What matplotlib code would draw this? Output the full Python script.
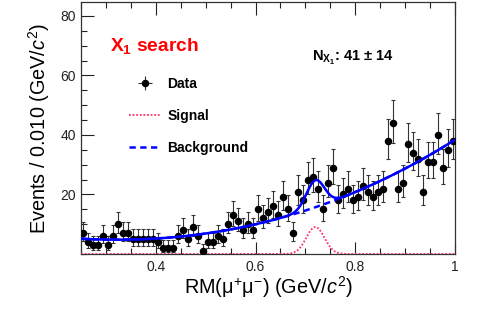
import math
import numpy as np
import matplotlib
matplotlib.use("Agg")
import matplotlib.pyplot as plt
from matplotlib.lines import Line2D

# ---------------- data ----------------
bin_width = 0.01
x_low, x_high = 0.25, 1.0
counts = [7, 4, 3, 3, 6, 3, 6, 10, 7, 7,
          5, 5, 5, 5, 5, 4, 2, 2, 2, 6,
          8, 5, 9, 6, 1, 4, 4, 6, 5, 10,
          13, 11, 8, 10, 8, 15, 12, 14, 16, 13,
          19, 15, 7, 21, 18, 25, 26, 22, 15, 24,
          29, 18, 20, 22, 18, 19, 23, 21, 19, 21,
          22, 38, 44, 22, 24, 37, 34, 32, 21, 31,
          31, 40, 29, 35, 38]

# fit model parameters
bkg_x0 = 0.70
bkg_coefs = [14.6, 54.0, 80.0, 15.0]   # polynomial in (x - bkg_x0)
sig_mean = 0.72
sig_sigma = 0.018
n_sig = 41
n_sig_err = 14

x_ticks = [0.4, 0.6, 0.8, 1.0]
x_tick_labels = ["0.4", "0.6", "0.8", "1"]
y_ticks = [20, 40, 60, 80]
y_tick_labels = ["20", "40", "60", "80"]

# ---------------- helpers ----------------
def pois_cdf(n, lam):
    s = 0.0
    term = math.exp(-lam)
    for k in range(n + 1):
        if k > 0:
            term *= lam / k
        s += term
    return s

def bisect(f, lo, hi, target):
    # f decreasing in lam
    for _ in range(80):
        mid = 0.5 * (lo + hi)
        if f(mid) > target:
            lo = mid
        else:
            hi = mid
    return 0.5 * (lo + hi)

alpha = 0.158655
def pois_interval(n):
    up = bisect(lambda l: pois_cdf(n, l), n, n + 10 * math.sqrt(n + 1) + 10, alpha)
    lo = 0.0 if n == 0 else bisect(lambda l: pois_cdf(n - 1, l), 0.0, n, 1 - alpha)
    return n - lo, up - n

counts = np.array(counts)
centers = x_low + bin_width * (np.arange(len(counts)) + 0.5)
errs = np.array([pois_interval(int(n)) for n in counts]).T

xs = np.linspace(x_low, x_high, 600)
u = xs - bkg_x0
bkg = sum(c * u ** k for k, c in enumerate(bkg_coefs))
sig = n_sig * bin_width / (math.sqrt(2 * math.pi) * sig_sigma) * np.exp(-0.5 * ((xs - sig_mean) / sig_sigma) ** 2)
tot = bkg + sig

# ---------------- plot ----------------
plt.rcParams['font.family'] = ['Liberation Sans', 'DejaVu Sans']
plt.rcParams['mathtext.fontset'] = 'custom'
plt.rcParams['mathtext.rm'] = 'Liberation Sans'
plt.rcParams['mathtext.it'] = 'Liberation Sans:italic'
plt.rcParams['mathtext.bf'] = 'Liberation Sans:bold'

fig = plt.figure(figsize=(4.79, 3.10), dpi=100)
ax = fig.add_axes([81 / 479, 56 / 310, 374 / 479, 252 / 310])

blue = '#0000ff'
red = '#ff3366'

ax.plot(xs, sig, color=red, lw=1.3, ls=(0, (1, 1)), zorder=3)
ax.errorbar(centers, counts, yerr=errs, fmt='o', color='black', ecolor='#333333',
            ms=4.4, elinewidth=0.8, capsize=1.6, capthick=0.8, zorder=4)
ax.plot(xs, bkg, color=blue, lw=1.8, ls=(0, (2.5, 1.8)), zorder=5)
ax.plot(xs, tot, color=blue, lw=1.8, zorder=6)

ax.set_xlim(x_low, x_high)
ax.set_ylim(0, 84.7)
ax.set_xticks(x_ticks)
ax.set_xticklabels(x_tick_labels)
ax.set_xticks(np.arange(0.25, 1.0001, 0.05), minor=True)
ax.set_yticks(y_ticks)
ax.set_yticklabels(y_tick_labels)
ax.set_yticks(np.arange(0, 85, 5), minor=True)
ax.tick_params(axis='both', which='both', direction='in', labelsize=10, colors='#222222')
ax.tick_params(axis='x', which='both', top=True)
ax.tick_params(axis='both', which='major', length=9, width=0.8)
ax.tick_params(axis='both', which='minor', length=4.5, width=0.8)
ax.tick_params(axis='x', which='major', pad=4)
for s in ax.spines.values():
    s.set_linewidth(0.9)
    s.set_color('#333333')

ax.set_xlabel(r"RM($\mathrm{\mu^{+}\mu^{-}}$) (GeV/$\mathit{c}^{2}$)", fontsize=14.3, labelpad=0.5)
ax.set_ylabel(r"Events / 0.010 (GeV/$\mathit{c}^{2}$)", fontsize=14.3, labelpad=6)

ax.text(0.077, 0.807, r"$\mathbf{X_{1}}$ search", transform=ax.transAxes, color='#ff0000',
        fontsize=13.8, fontweight='bold', va='baseline')
ax.text(0.618, 0.766, r"$\mathbf{N_{X_{1}}}$: " + f"{n_sig} \u00b1 {n_sig_err}", transform=ax.transAxes,
        color='black', fontsize=10.5, fontweight='bold', va='baseline')

h_data = ax.errorbar([], [], xerr=[], yerr=[], fmt='o', color='black', ecolor='#333333',
                     ms=4.4, elinewidth=0.8)
h_sig = Line2D([], [], color=red, lw=1.3, ls=(0, (1, 1)))
h_bkg = Line2D([], [], color=blue, lw=1.8, ls=(0, (2.5, 1.8)))
leg = ax.legend([h_data, h_sig, h_bkg], ["Data", "Signal", "Background"],
                loc='upper left', bbox_to_anchor=(0.109, 0.729), frameon=False,
                prop={'weight': 'bold', 'size': 10}, handlelength=2.3,
                handletextpad=0.5, labelspacing=1.3, borderpad=0)

fig.savefig("out.png", dpi=100)
